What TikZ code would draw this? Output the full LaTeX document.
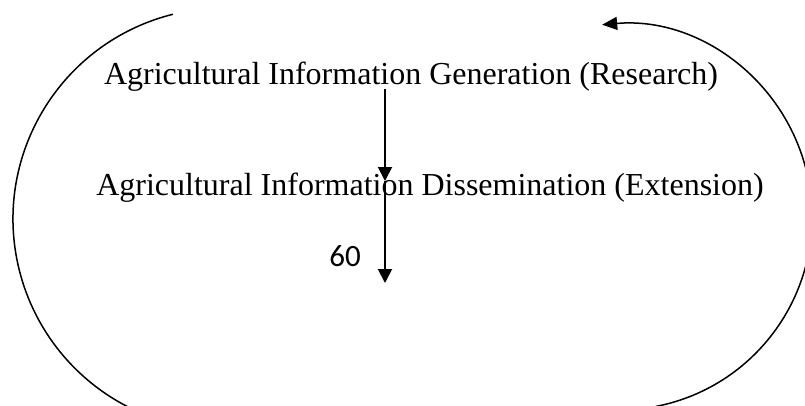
\documentclass[tikz,border=0pt]{standalone}
\usepackage{fontspec}
\setmainfont{Liberation Serif}
\newfontfamily\pagefont{Carlito}
\usetikzlibrary{arrows.meta}
\tikzset{
  cycletext/.style={anchor=base, inner sep=0pt, font=\fontsize{32}{38}\selectfont},
  flow/.style={line width=1.9pt, -{Triangle[length=14pt,width=14pt]}},
  loop/.style={line width=1.5pt}
}
\begin{document}
\begin{tikzpicture}[x=1pt, y=1pt]
\useasboundingbox (0,0) rectangle (805,405);
\node[cycletext] (gen) at (411,320) {Agricultural Information Generation (Research)};
\node[cycletext] (dis) at (430,210) {Agricultural Information Dissemination (Extension)};
\node[inner sep=0pt, font=\pagefont\fontsize{31}{37}\selectfont] (pg) at (345,148.5) {60};
\coordinate (a1) at (385,316); \coordinate (a2) at (385,224); \coordinate (a3) at (385,122);
\draw[flow] (a1) -- (a2);
\draw[flow] (a2) -- (a3);
\coordinate (lc) at (224,186); \coordinate (rc) at (619,188);
\draw[loop] (lc) ++(104:211) arc (104:244:211);
\draw[loop, -{Triangle[length=15pt,width=13pt]}] (rc) ++(-79:193) arc (-79:95:193);
\end{tikzpicture}
\end{document}
